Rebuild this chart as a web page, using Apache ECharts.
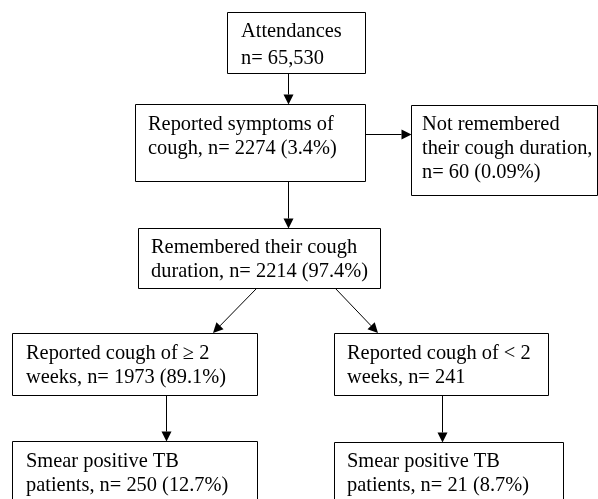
<!DOCTYPE html>
<html>
<head>
<meta charset="utf-8">
<style>
  html, body { margin: 0; padding: 0; background: #fff; }
  #flow { width: 598px; height: 499px; }
</style>
<script src="https://cdn.jsdelivr.net/npm/echarts@6/dist/echarts.min.js"></script>
</head>
<body>
<div id="flow"></div>
<script>
// text of each step, last entry is the prefix of the count line
var stepLines = [
  ['Attendances', 'n= '],
  ['Reported symptoms of', 'cough, n= '],
  ['Not remembered', 'their cough duration,', 'n= '],
  ['Remembered their cough', 'duration, n= '],
  ['Reported cough of \u2265 2', 'weeks, n= '],
  ['Reported cough of < 2', 'weeks, n= '],
  ['Smear positive TB', 'patients, n= '],
  ['Smear positive TB', 'patients, n= ']
];
var stepCounts = [65530, 2274, 60, 2214, 1973, 241, 250, 21];
var stepPercents = [null, 3.4, 0.09, 97.4, 89.1, null, 12.7, 8.7];
var flowLinks = [[0, 1], [1, 2], [1, 3], [3, 4], [3, 5], [4, 6], [5, 7]];

// layout only (pixels)
var boxLayout = [
  {x: 227, y: 12,  w: 138, h: 61, tx: 241, base: 37,  gap: 27},
  {x: 135, y: 104, w: 230, h: 77, tx: 148, base: 130, gap: 24},
  {x: 411, y: 105, w: 186, h: 90, tx: 422, base: 130, gap: 24},
  {x: 138, y: 228, w: 242, h: 60, tx: 151, base: 253, gap: 24},
  {x: 12,  y: 333, w: 245, h: 62, tx: 26,  base: 359, gap: 24},
  {x: 334, y: 333, w: 214, h: 62, tx: 347, base: 359, gap: 24},
  {x: 12,  y: 441, w: 245, h: 80, tx: 26,  base: 467, gap: 24},
  {x: 334, y: 442, w: 229, h: 80, tx: 347, base: 467, gap: 24}
];
var linkAnchors = [
  [288, 73, 288, 104],
  [365, 134, 411, 134],
  [288, 181, 288, 228],
  [257, 288, 213, 333],
  [335, 288, 378, 333],
  [166, 395, 166, 441],
  [442, 395, 442, 442]
];

var FONT = '20.4px "Liberation Serif", "Times New Roman", serif';

function countText(i) {
  var n = stepCounts[i] >= 10000 ? stepCounts[i].toLocaleString('en-US') : String(stepCounts[i]);
  var s = n;
  if (stepPercents[i] != null) s += ' (' + stepPercents[i] + '%)';
  return s;
}

var elements = [];

stepLines.forEach(function (lines, i) {
  var b = boxLayout[i];
  elements.push({
    type: 'rect',
    shape: {x: b.x + 0.5, y: b.y + 0.5, width: b.w, height: b.h},
    style: {fill: '#fff', stroke: '#000', lineWidth: 1}
  });
  lines.forEach(function (ln, k) {
    var txt = (k === lines.length - 1) ? ln + countText(i) : ln;
    elements.push({
      type: 'text',
      x: b.tx,
      y: b.base + k * b.gap - 5,
      style: {text: txt, font: FONT, fill: '#000', textAlign: 'left', textVerticalAlign: 'middle'}
    });
  });
});

flowLinks.forEach(function (lk, j) {
  var a = linkAnchors[j];
  var x1 = a[0], y1 = a[1], x2 = a[2], y2 = a[3];
  var dx = x2 - x1, dy = y2 - y1;
  var len = Math.sqrt(dx * dx + dy * dy);
  var ux = dx / len, uy = dy / len;
  var headLen = 10, headHalf = 5;
  var bx = x2 - ux * headLen, by = y2 - uy * headLen;
  var off = (dx === 0 || dy === 0) ? 0.5 : 0;
  elements.push({
    type: 'line',
    shape: {x1: x1 + off, y1: y1 + off, x2: bx + off, y2: by + off},
    style: {stroke: '#000', lineWidth: 1}
  });
  elements.push({
    type: 'polygon',
    shape: {points: [
      [x2 + off, y2 + off],
      [bx - uy * headHalf + off, by + ux * headHalf + off],
      [bx + uy * headHalf + off, by - ux * headHalf + off]
    ]},
    style: {fill: '#000'}
  });
});

var chart = echarts.init(document.getElementById('flow'));
chart.setOption({
  backgroundColor: '#fff',
  animation: false,
  graphic: {elements: elements}
});
</script>
</body>
</html>
